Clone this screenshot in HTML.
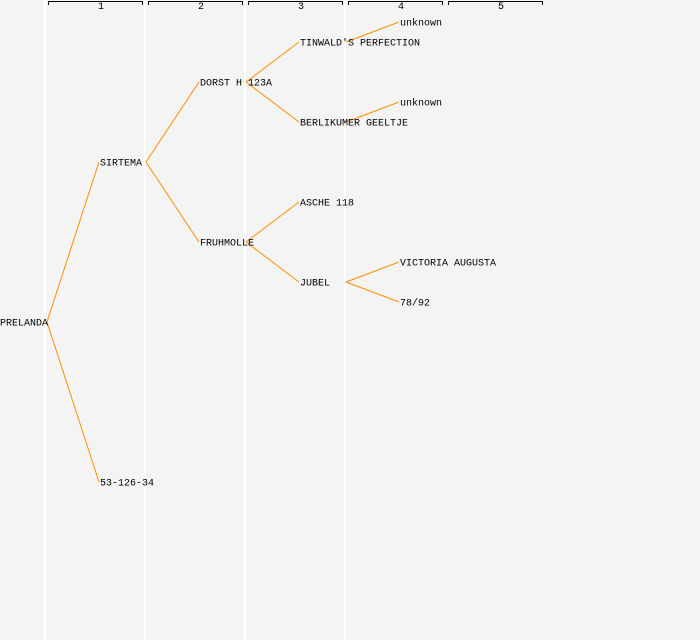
<!DOCTYPE html>
<html><head><style>
body{margin:0;background:#f4f4f4;}
svg{display:block;}
text{font-family:"Liberation Mono",monospace;font-size:10px;fill:#000;}
</style></head><body>
<svg width="700" height="640" xmlns="http://www.w3.org/2000/svg">
<rect width="700" height="640" fill="#f4f4f4"/>
<g stroke="#ffffff" stroke-width="2">
<line x1="45" y1="0" x2="45" y2="640"/><line x1="145" y1="0" x2="145" y2="640"/>
<line x1="245" y1="0" x2="245" y2="640"/><line x1="345" y1="0" x2="345" y2="640"/>
</g>
<g stroke="#000" fill="none" stroke-width="1">
<path d="M48.5 5V1.5H142.5V5"/><path d="M148.5 5V1.5H242.5V5"/><path d="M248.5 5V1.5H342.5V5"/>
<path d="M348.5 5V1.5H442.5V5"/><path d="M448.5 5V1.5H542.5V5"/>
</g>
<g style="font-size:8px" text-anchor="middle">
<text x="101" y="9">1</text><text x="201" y="9">2</text><text x="301" y="9">3</text><text x="401" y="9">4</text><text x="501" y="9">5</text>
</g>
<g stroke="#ff8c00" stroke-width="1" fill="none">
<path d="M47 322L99 162M47 322L99 482"/>
<path d="M146 162L199 82M146 162L199 242"/>
<path d="M246 82L299 42M246 82L299 122"/>
<path d="M246 242L299 202M246 242L299 282"/>
<path d="M346 42L399 22M346 122L399 102"/>
<path d="M346 282L399 262M346 282L399 302"/>
</g>
<g>
<text x="0" y="325.5">PRELANDA</text>
<text x="100" y="165.5">SIRTEMA</text>
<text x="100" y="485.5">53-126-34</text>
<text x="200" y="85.5">DORST H 123A</text>
<text x="200" y="245.5">FRUHMOLLE</text>
<text x="300" y="45.5">TINWALD'S PERFECTION</text>
<text x="300" y="125.5">BERLIKUMER GEELTJE</text>
<text x="300" y="205.5">ASCHE 118</text>
<text x="300" y="285.5">JUBEL</text>
<text x="400" y="25.5">unknown</text>
<text x="400" y="105.5">unknown</text>
<text x="400" y="265.5">VICTORIA AUGUSTA</text>
<text x="400" y="305.5">78/92</text>
</g>
</svg>
</body></html>
